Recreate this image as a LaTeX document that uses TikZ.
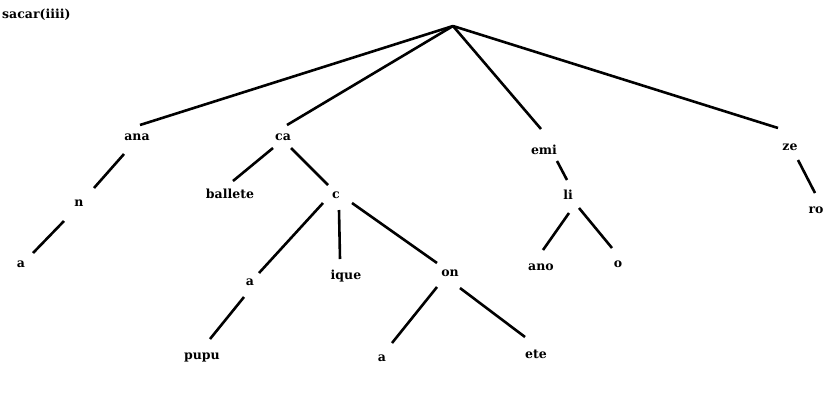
\documentclass[tikz,border=0pt]{standalone}
\usepackage{fontspec}
\setmainfont{DejaVu Serif}
\begin{document}
\begin{tikzpicture}[x=1pt,y=-1pt,
  lbl/.style={inner sep=0pt,font=\bfseries\fontsize{12.5}{14}\selectfont,text height=1.2ex,text depth=0pt},
  branch/.style={line width=2.6pt}]
\useasboundingbox[fill=white] (0,0) rectangle (832,410);
% edge helper: parent, offset at parent, child, offset at child
\newcommand\treeedge[4]{\draw[branch] ([shift={(#2)}]#1.center) -- ([shift={(#4)}]#3.center);}

\node[lbl,anchor=west] (title) at (2,15) {sacar(iiii)};
\coordinate (root) at (453,26);

\node[lbl] (ana) at (137,137) {ana};
\node[lbl] (ca) at (283,137) {ca};
\node[lbl] (emi) at (544,151) {emi};
\node[lbl] (ze) at (790,147) {ze};
\node[lbl] (n) at (79,203) {n};
\node[lbl] (a1) at (21,264) {a};
\node[lbl] (ballete) at (230,195) {ballete};
\node[lbl] (c) at (336,195) {c};
\node[lbl] (a2) at (250,282) {a};
\node[lbl] (ique) at (346,276) {ique};
\node[lbl] (on) at (450,273) {on};
\node[lbl] (pupu) at (202,356) {pupu};
\node[lbl] (a3) at (382,358) {a};
\node[lbl] (ete) at (536,355) {ete};
\node[lbl] (li) at (568,196) {li};
\node[lbl] (ano) at (541,267) {ano};
\node[lbl] (o) at (618,264) {o};
\node[lbl] (ro) at (816,210) {ro};

\treeedge{root}{0,0}{ana}{3,-12}
\treeedge{root}{0,0}{ca}{4,-12}
\treeedge{root}{0,0}{emi}{-3,-22}
\treeedge{root}{0,0}{ze}{-12,-19}
\treeedge{ana}{-13,17}{n}{15,-15}
\treeedge{n}{-15,18}{a1}{12,-11}
\treeedge{ca}{-10,11}{ballete}{3,-14}
\treeedge{ca}{8,11}{c}{-8,-10}
\treeedge{c}{-13,8}{a2}{9,-9}
\treeedge{c}{3,15}{ique}{-6,-17}
\treeedge{c}{16,8}{on}{-13,-10}
\treeedge{a2}{-6,15}{pupu}{8,-17}
\treeedge{on}{-13,14}{a3}{10,-15}
\treeedge{on}{10,15}{ete}{-11,-18}
\treeedge{emi}{13,10}{li}{-1,-16}
\treeedge{li}{1,17}{ano}{2,-17}
\treeedge{li}{11,12}{o}{-6,-16}
\treeedge{ze}{8,13}{ro}{-1,-17}
\end{tikzpicture}
\end{document}
